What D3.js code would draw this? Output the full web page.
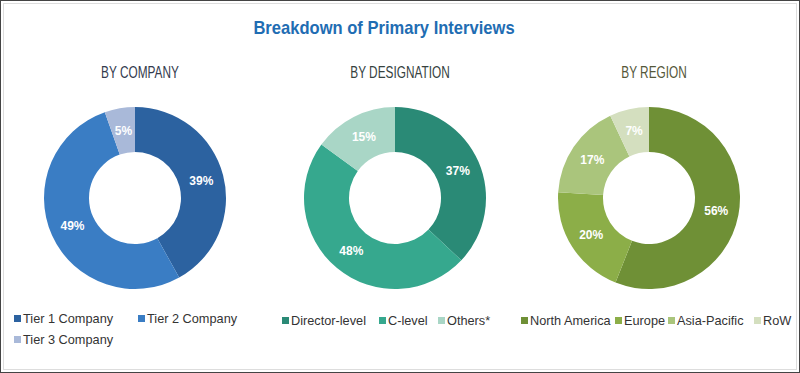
<!DOCTYPE html>
<html>
<head>
<meta charset="utf-8">
<title>Breakdown of Primary Interviews</title>
<script src="https://d3js.org/d3.v7.min.js"></script>
<style>
body { margin: 0; background: #fff; }
</style>
</head>
<body>
<div id="chart"></div>
<script>

// data
var companyLabels = ["Tier 1 Company", "Tier 2 Company", "Tier 3 Company"];
var companyValues = [39, 49, 5];
var companyColors = ["#2c62a0", "#3a7dc4", "#a9b9d9"];

var designationLabels = ["Director-level", "C-level", "Others*"];
var designationValues = [37, 48, 15];
var designationColors = ["#2a8a76", "#36a88e", "#a9d6c6"];

var regionLabels = ["North America", "Europe", "Asia-Pacific", "RoW"];
var regionValues = [56, 20, 17, 7];
var regionColors = ["#6f9036", "#8cae48", "#aac57c", "#d4dfbf"];

var width = 800, height = 373;
var sans = "'Liberation Sans', Arial, sans-serif";

var svg = d3.select("#chart").append("svg")
  .attr("width", width)
  .attr("height", height);

svg.append("rect").attr("x", 0.5).attr("y", 0.5)
  .attr("width", width - 1).attr("height", height - 1)
  .attr("fill", "#fff").attr("stroke", "#444");
svg.append("rect").attr("x", 3.5).attr("y", 3.5)
  .attr("width", width - 7).attr("height", height - 7)
  .attr("fill", "none").attr("stroke", "#ddd");

// narrow text: squeeze horizontally around anchor point
function narrowText(sel, x, y, f) {
  return sel.append("text")
    .attr("transform", "translate(" + x + "," + y + ") scale(" + f + ",1)");
}

narrowText(svg, 384, 34, 0.92)
  .attr("text-anchor", "middle")
  .attr("font-family", sans)
  .attr("font-weight", "bold")
  .attr("font-size", "18px")
  .attr("fill", "#1f6db3")
  .text("Breakdown of Primary Interviews");

var charts = [
  {title: "BY COMPANY", titleColor: "#333b4e", cx: 135, labels: companyLabels, values: companyValues, colors: companyColors,
   legend: [[14, 323], [138, 323], [14, 344]]},
  {title: "BY DESIGNATION", titleColor: "#36423f", cx: 395, labels: designationLabels, values: designationValues, colors: designationColors,
   legend: [[282, 325], [379, 325], [438, 325]]},
  {title: "BY REGION", titleColor: "#55573a", cx: 649, labels: regionLabels, values: regionValues, colors: regionColors,
   legend: [[521, 325], [615, 325], [668, 325], [754, 325]]}
];

var cy = 198;
var pie = d3.pie().sort(null).value(function(d){ return d; });
var arc = d3.arc().innerRadius(46).outerRadius(91);

charts.forEach(function(c){
  narrowText(svg, c.cx + 5, 78, 0.74)
    .attr("text-anchor", "middle")
    .attr("font-family", sans)
    .attr("font-size", "16px")
    .attr("fill", c.titleColor)
    .text(c.title);

  var g = svg.append("g").attr("transform", "translate(" + c.cx + "," + cy + ")");
  var arcs = pie(c.values);

  g.selectAll("path").data(arcs).enter().append("path")
    .attr("d", arc)
    .attr("fill", function(d, i){ return c.colors[i]; });

  g.selectAll("text").data(arcs).enter().append("text")
    .attr("transform", function(d){ return "translate(" + arc.centroid(d) + ")"; })
    .attr("dy", "0.35em")
    .attr("text-anchor", "middle")
    .attr("font-family", sans)
    .attr("font-weight", "bold")
    .attr("font-size", "12px")
    .attr("fill", "#fff")
    .text(function(d){ return d.data + "%"; });

  var lg = svg.append("g");
  c.labels.forEach(function(l, i){
    var p = c.legend[i];
    lg.append("rect")
      .attr("x", p[0]).attr("y", p[1] - 8)
      .attr("width", 7).attr("height", 7)
      .attr("fill", c.colors[i]);
    narrowText(lg, p[0] + 9, p[1], 0.98)
      .attr("font-family", sans)
      .attr("font-size", "13px")
      .attr("fill", "#333")
      .text(l);
  });
});

</script>
</body>
</html>
